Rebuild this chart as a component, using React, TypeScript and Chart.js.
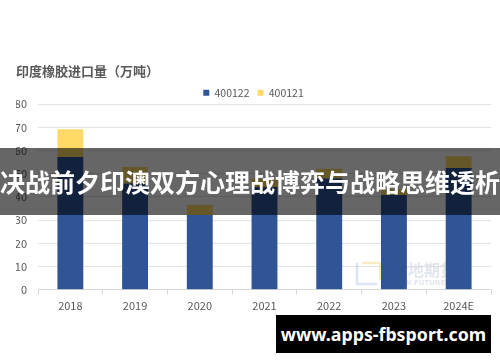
import React, { useEffect, useRef } from "react";
import { Chart, registerables } from "chart.js";

Chart.register(...registerables);

const categories = ["2018", "2019", "2020", "2021", "2022", "2023", "2024E"];
const series400122 = [57.2, 45.8, 32.2, 44.3, 48, 40.8, 52.5];
const series400121 = [12, 7.1, 4.3, 3.5, 4.1, 2.5, 5];
const seriesNames = ["400122", "400121"];
const chartTitle = "印度橡胶进口量（万吨）";
const bannerText = "决战前夕印澳双方心理战博弈与战略思维透析";
const siteText = "www.apps-fbsport.com";

const FONT = "'Noto Sans CJK SC', 'Noto Sans', sans-serif";

const watermarkPlugin = {
  id: "dadiWatermark",
  afterInit(chart: any) {
    const legend = chart.legend;
    if (legend && !legend.__patched) {
      const origFit = legend.fit.bind(legend);
      legend.fit = function () {
        origFit();
        this.height = Math.max(0, this.height - 4);
      };
      legend.__patched = true;
    }
  },
  beforeDatasetsDraw(chart: any) {
    const ctx = chart.ctx;
    ctx.save();
    ctx.lineWidth = 2.5;
    ctx.strokeStyle = "rgba(190,205,230,0.55)";
    ctx.beginPath();
    ctx.moveTo(357, 263);
    ctx.lineTo(357, 284);
    ctx.lineTo(377, 284);
    ctx.stroke();
    ctx.strokeStyle = "rgba(245,220,150,0.55)";
    ctx.beginPath();
    ctx.moveTo(362, 263);
    ctx.lineTo(380, 263);
    ctx.lineTo(380, 280);
    ctx.stroke();
    ctx.fillStyle = "rgba(200,208,222,0.55)";
    ctx.font = `bold 16px ${FONT}`;
    ctx.textBaseline = "middle";
    ctx.fillText("大地期货", 392, 270);
    ctx.font = `bold 7px 'DejaVu Sans', sans-serif`;
    ctx.fillText("DADI FUTURES", 392, 283);
    ctx.restore();
  },
};

export default function App() {
  const canvasRef = useRef<HTMLCanvasElement | null>(null);

  useEffect(() => {
    document.body.style.margin = "0";
    const canvas = canvasRef.current;
    if (!canvas) return;
    const chart = new Chart(canvas, {
      type: "bar",
      data: {
        labels: categories,
        datasets: [
          {
            label: seriesNames[0],
            data: series400122,
            backgroundColor: "#2F5597",
            categoryPercentage: 0.8,
            barPercentage: 0.5,
          },
          {
            label: seriesNames[1],
            data: series400121,
            backgroundColor: "#FFD966",
            categoryPercentage: 0.8,
            barPercentage: 0.5,
          },
        ],
      },
      options: {
        animation: false,
        responsive: false,
        maintainAspectRatio: false,
        layout: { padding: { top: 0, left: 16, right: 9, bottom: 46 } },
        plugins: {
          title: {
            display: true,
            text: chartTitle,
            align: "start",
            color: "#595959",
            font: { family: FONT, size: 13, weight: "bold" },
            padding: { top: 63, bottom: 1 },
          },
          legend: {
            display: true,
            position: "top",
            align: "center",
            labels: {
              boxWidth: 6,
              boxHeight: 6,
              padding: 8,
              color: "#595959",
              font: { family: FONT, size: 10.5 },
            },
          },
          tooltip: { enabled: false },
        },
        scales: {
          x: {
            stacked: true,
            grid: {
              drawOnChartArea: false,
              drawTicks: true,
              tickLength: 5,
              color: "#d9d9d9",
            },
            border: { color: "#d9d9d9" },
            ticks: {
              color: "#595959",
              font: { family: FONT, size: 11 },
              padding: 4,
            },
          },
          y: {
            stacked: true,
            min: 0,
            max: 80,
            afterFit(scale: any) {
              scale.width = 22;
            },
            ticks: {
              stepSize: 10,
              color: "#595959",
              font: { family: FONT, size: 11 },
              padding: 11,
            },
            grid: { color: "#e3e3e3", drawTicks: false },
            border: { display: false },
          },
        },
      },
      plugins: [watermarkPlugin],
    });
    return () => chart.destroy();
  }, []);

  return (
    <div style={{ position: "relative", width: 500, height: 362, background: "#fff", overflow: "hidden" }}>
      <canvas ref={canvasRef} width={500} height={362} style={{ position: "absolute", left: 0, top: 0 }} />
      <div
        style={{
          position: "absolute",
          left: 0,
          top: 148,
          width: 500,
          height: 67,
          background: "rgba(0,0,0,0.6)",
          color: "#fff",
          fontFamily: FONT,
          fontWeight: "bold",
          fontSize: 25,
          lineHeight: "67px",
          textAlign: "center",
          whiteSpace: "nowrap",
        }}
      >
        {bannerText}
      </div>
      <div
        style={{
          position: "absolute",
          left: 276,
          top: 315,
          width: 215,
          height: 38,
          background: "#000",
          color: "#fff",
          fontFamily: "'Noto Sans', sans-serif",
          fontWeight: "bold",
          fontSize: 17.8,
          lineHeight: "38px",
          textAlign: "center",
          whiteSpace: "nowrap",
        }}
      >
        {siteText}
      </div>
    </div>
  );
}
